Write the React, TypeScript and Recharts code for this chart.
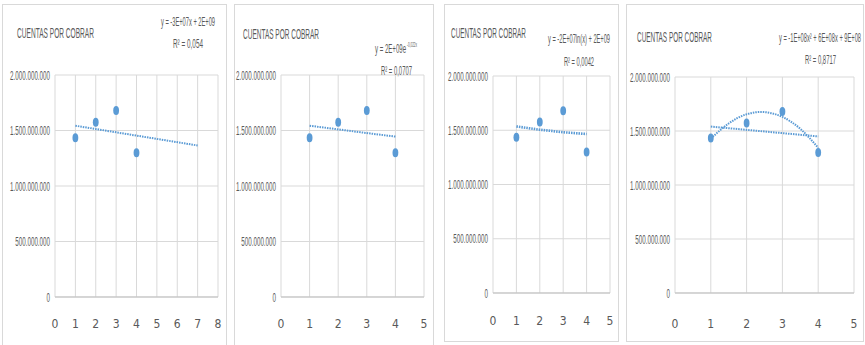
import React from 'react';
import { ComposedChart, Scatter, Line, XAxis, YAxis, CartesianGrid } from 'recharts';

// ---- data ----
const periods = [1, 2, 3, 4];
const cuentas = [1435000000, 1575000000, 1680000000, 1300000000];

const xTicksWide = [0, 1, 2, 3, 4, 5, 6, 7, 8];
const xTicksNarrow = [0, 1, 2, 3, 4, 5];
const yTicks = [0, 500000000, 1000000000, 1500000000, 2000000000];

// trend lines (as drawn by the spreadsheet)
const linTrendX = [1, 7];
const linTrendY = [1543000000, 1365000000];
const expTrendX = [1, 2, 3, 4];
const expTrendY = [1543000000, 1510000000, 1477000000, 1445000000];
const logTrendX = [1, 2, 3, 4];
const logTrendY = [1535000000, 1505000000, 1482000000, 1465000000];
const linTrend4X = [1, 4];
const linTrend4Y = [1541000000, 1450000000];
const polyTrendX = [1, 1.5, 2, 2.5, 3, 3.5, 4];
const polyTrendY = [1430000000, 1570000000, 1655000000, 1675000000, 1630000000, 1520000000, 1345000000];

const title = 'CUENTAS POR COBRAR';
const eqLinear = 'y = -3E+07x + 2E+09';
const r2Linear = 'R² = 0,054';
const eqExpBase = 'y = 2E+09e';
const eqExpPow = '-0,022x';
const r2Exp = 'R² = 0,0707';
const eqLog = 'y = -2E+07ln(x) + 2E+09';
const r2Log = 'R² = 0,0042';
const eqPoly = 'y = -1E+08x² + 6E+08x + 9E+08';
const r2Poly = 'R² = 0,8717';

// ---- styling ----
const FONT = '"Liberation Sans", Arial, sans-serif';
const NARROW = '"Liberation Sans Narrow", "DejaVu Sans Condensed", "Liberation Sans", sans-serif';
const TEXT = '#595959';
const BLUE = '#5b9bd5';
const GRID = '#d9d9d9';
const SQUEEZE = 0.48;

const pts = (xs: number[], ys: number[]) => xs.map((x, i) => ({ x, y: ys[i] }));
const fmt = (v: number) => String(v).replace(/\B(?=(\d{3})+(?!\d))/g, '.');

const YTick = (props: any) => {
  const { x, y, payload } = props;
  const s = fmt(payload.value);
  const digits = s.replace(/\./g, '').length;
  const dots = s.length - digits;
  const w = (digits * 0.556 + dots * 0.278) * 13 * SQUEEZE;
  return (
    <text
      x={x - 5 - w} y={y + 4.5} fontSize={13} fontFamily={FONT} fill={TEXT}
      textLength={w} lengthAdjust="spacingAndGlyphs"
    >
      {s}
    </text>
  );
};

const XTick = (props: any) => {
  const { x, y, payload, off } = props;
  return (
    <text x={x} y={y + off} fontSize={12} fontFamily={NARROW} textAnchor="middle" fill={TEXT} stroke="none">
      {String(payload.value)}
    </text>
  );
};

const Dot = (p: any) => <ellipse cx={p.cx} cy={p.cy} rx={2.9} ry={4.5} fill={BLUE} />;

interface PanelProps {
  left: number;
  width: number;
  bottomBorder: number | null;
  plotLeft: number;
  plotRight: number;
  plotTop: number;
  plotBottom: number;
  labelOff: number;
  xTicks: number[];
  trends: { data: { x: number; y: number }[]; curve?: boolean; thick?: boolean }[];
}

const Panel: React.FC<PanelProps> = (p) => {
  const xMax = p.xTicks[p.xTicks.length - 1];
  return (
    <>
      <div
        style={{
          position: 'absolute',
          left: p.left,
          top: 4,
          width: p.width,
          height: p.bottomBorder ? p.bottomBorder - 4 : 360,
          border: `1px solid ${GRID}`,
          boxSizing: 'border-box',
          background: '#fff',
        }}
      />
      <div style={{ position: 'absolute', left: p.left, top: 0 }}>
        <ComposedChart
          width={p.width}
          height={345}
          margin={{
            top: p.plotTop,
            left: p.plotLeft - p.left - 40,
            right: p.left + p.width - p.plotRight,
            bottom: 345 - p.plotBottom - 40,
          }}
        >
          <CartesianGrid stroke={GRID} />
          <XAxis
            type="number"
            dataKey="x"
            domain={[0, xMax]}
            ticks={p.xTicks}
            allowDataOverflow
            height={40}
            tickSize={0}
            tickMargin={0}
            tickLine={false}
            stroke="#bfbfbf"
            axisLine={{ stroke: '#bfbfbf' }}
            tick={<XTick off={p.labelOff} />}
            interval={0}
          />
          <YAxis
            type="number"
            dataKey="y"
            domain={[0, 2000000000]}
            ticks={yTicks}
            allowDataOverflow
            width={40}
            tickSize={0}
            tickMargin={0}
            tickLine={false}
            axisLine={false}
            tick={<YTick />}
            interval={0}
          />
          {p.trends.map((t, i) => (
            <Line
              key={i}
              data={t.data}
              dataKey="y"
              type={t.curve ? 'natural' : 'linear'}
              stroke={BLUE}
              strokeWidth={t.thick ? 2.6 : 2}
              strokeDasharray="1.5 1"
              dot={false}
              activeDot={false}
              isAnimationActive={false}
            />
          ))}
          <Scatter data={pts(periods, cuentas)} dataKey="y" fill={BLUE} shape={Dot} isAnimationActive={false} />
        </ComposedChart>
      </div>
    </>
  );
};

const Label = ({ x, y, w, size, children }: { x: number; y: number; w: number; size: number; children: React.ReactNode }) => (
  <text x={x} y={y} fontSize={size} fill={TEXT} fontFamily={FONT} textLength={w} lengthAdjust="spacingAndGlyphs">
    {children}
  </text>
);

export default function App() {
  return (
    <div style={{ position: 'absolute', left: 0, top: 0, width: 865, height: 345, overflow: 'hidden', background: '#fff' }}>
      <Panel
        left={2} width={225} bottomBorder={null}
        plotLeft={55} plotRight={218} plotTop={75} plotBottom={297} labelOff={31}
        xTicks={xTicksWide}
        trends={[{ data: pts(linTrendX, linTrendY) }]}
      />
      <Panel
        left={234} width={200} bottomBorder={null}
        plotLeft={281} plotRight={424} plotTop={75} plotBottom={297} labelOff={31}
        xTicks={xTicksNarrow}
        trends={[{ data: pts(expTrendX, expTrendY) }]}
      />
      <Panel
        left={444} width={175} bottomBorder={342}
        plotLeft={493} plotRight={610} plotTop={76} plotBottom={293} labelOff={32}
        xTicks={xTicksNarrow}
        trends={[{ data: pts(logTrendX, logTrendY), thick: true }]}
      />
      <Panel
        left={626} width={238} bottomBorder={342}
        plotLeft={675} plotRight={854} plotTop={77} plotBottom={293} labelOff={35}
        xTicks={xTicksNarrow}
        trends={[{ data: pts(linTrend4X, linTrend4Y) }, { data: pts(polyTrendX, polyTrendY), curve: true }]}
      />
      <svg width={865} height={345} style={{ position: 'absolute', left: 0, top: 0, pointerEvents: 'none' }}>
        <Label x={17} y={38} w={77} size={15}>{title}</Label>
        <Label x={243} y={38.5} w={76} size={15}>{title}</Label>
        <Label x={451} y={38} w={75} size={15}>{title}</Label>
        <Label x={637} y={42} w={75} size={15}>{title}</Label>

        <Label x={161} y={26} w={54} size={12}>{eqLinear}</Label>
        <Label x={173} y={47.5} w={30} size={12}>{r2Linear}</Label>

        <Label x={375} y={52.5} w={31} size={12}>{eqExpBase}</Label>
        <Label x={407} y={47} w={10} size={7}>{eqExpPow}</Label>
        <Label x={381} y={75} w={31} size={12}>{r2Exp}</Label>

        <Label x={548} y={42.5} w={62} size={12}>{eqLog}</Label>
        <Label x={564} y={65.5} w={30} size={12}>{r2Log}</Label>

        <Label x={779} y={41.5} w={82} size={12}>{eqPoly}</Label>
        <Label x={805} y={63.5} w={31} size={12}>{r2Poly}</Label>
      </svg>
    </div>
  );
}
